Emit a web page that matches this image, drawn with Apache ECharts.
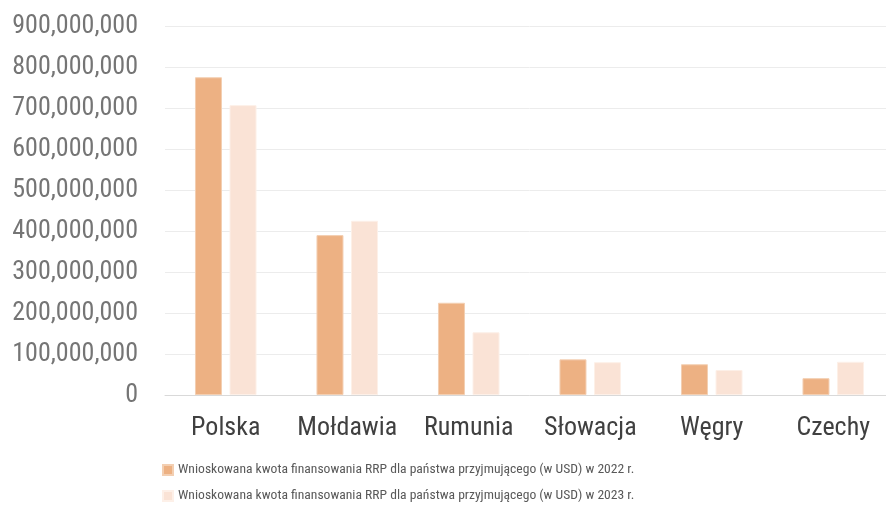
<!DOCTYPE html>
<html><head><meta charset="utf-8">
<script src="https://cdn.jsdelivr.net/npm/echarts@6/dist/echarts.min.js"></script>
<style>html,body{margin:0;padding:0;background:#fff;overflow:hidden}#c{width:894px;height:505px}</style>
</head><body><div id="c"></div>
<script>
const categories = ['Polska', 'Mołdawia', 'Rumunia', 'Słowacja', 'Węgry', 'Czechy'];
const values2022 = [775000000, 390000000, 225000000, 87000000, 75000000, 41000000];
const values2023 = [707000000, 425000000, 153000000, 80000000, 61000000, 81000000];
const seriesNames = [
  'Wnioskowana kwota finansowania RRP dla państwa przyjmującego (w USD) w 2022 r.',
  'Wnioskowana kwota finansowania RRP dla państwa przyjmującego (w USD) w 2023 r.'
];
const FONT = '"Liberation Sans Narrow", "Roboto Condensed", Roboto, sans-serif';
const chart = echarts.init(document.getElementById('c'), null, {renderer: 'canvas'});
const legendText = {fontFamily: FONT, fontSize: 13.6, color: '#595959'};
chart.setOption({
  animation: false,
  textStyle: {fontFamily: FONT},
  grid: {left: 165, top: 26, right: 0, bottom: 110, containLabel: false},
  legend: [
    {left: 157, top: 458, itemWidth: 10, itemHeight: 10, itemGap: 5, icon: 'rect',
     textStyle: legendText, data: [seriesNames[0]]},
    {left: 157, top: 484, itemWidth: 10, itemHeight: 10, itemGap: 5, icon: 'rect',
     textStyle: legendText, data: [seriesNames[1]]}
  ],
  xAxis: {
    type: 'category', data: categories,
    axisLine: {lineStyle: {color: '#d9d9d9', width: 1}},
    axisTick: {show: false},
    axisLabel: {fontFamily: FONT, fontSize: 26, color: '#404040', margin: 20, interval: 0}
  },
  yAxis: {
    type: 'value', min: 0, max: 900000000, interval: 100000000,
    axisLine: {show: false}, axisTick: {show: false},
    splitLine: {lineStyle: {color: '#ececec', width: 1}},
    axisLabel: {
      fontFamily: FONT, fontSize: 26, color: '#757575', margin: 27,
      formatter: v => v.toLocaleString('en-US')
    }
  },
  series: [
    {name: seriesNames[0], type: 'bar', data: values2022, barWidth: 27, barGap: '28%',
     itemStyle: {color: '#edb183', borderColor: '#f3cfb2', borderWidth: 1}},
    {name: seriesNames[1], type: 'bar', data: values2023, barWidth: 27,
     itemStyle: {color: '#fae3d6', borderColor: '#fdf0e8', borderWidth: 1}}
  ]
});
</script></body></html>
